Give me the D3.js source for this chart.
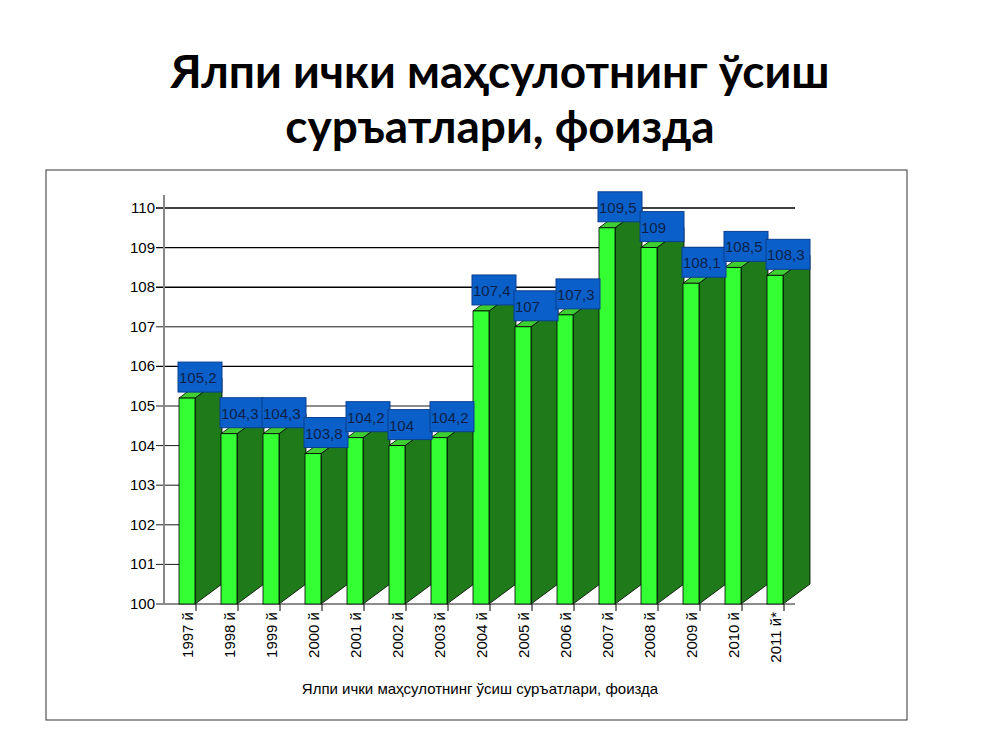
<!DOCTYPE html><html><head><meta charset="utf-8">
<script src="https://cdn.jsdelivr.net/npm/d3@7"></script>
<style>body{margin:0;background:#fff}</style></head><body>
<svg id="c" width="1000" height="750"></svg>
<script>
const categories=["1997 й","1998 й","1999 й","2000 й","2001 й","2002 й","2003 й","2004 й","2005 й","2006 й","2007 й","2008 й","2009 й","2010 й","2011 й*"];
const values=[105.2,104.3,104.3,103.8,104.2,104,104.2,107.4,107,107.3,109.5,109,108.1,108.5,108.3];
const labels=["105,2","104,3","104,3","103,8","104,2","104","104,2","107,4","107","107,3","109,5","109","108,1","108,5","108,3"];
const yTicks=[100,101,102,103,104,105,106,107,108,109,110];
const svg=d3.select("#c");
svg.append("text").attr("x",500).attr("y",88).attr("text-anchor","middle").attr("font-family","Lato, 'Open Sans', sans-serif").attr("font-weight","bold").attr("font-size",46).text("Ялпи ички маҳсулотнинг ўсиш");
svg.append("text").attr("x",500).attr("y",143).attr("text-anchor","middle").attr("font-family","Lato, 'Open Sans', sans-serif").attr("font-weight","bold").attr("font-size",46).text("суръатлари, фоизда");
svg.append("rect").attr("x",46).attr("y",170).attr("width",861).attr("height",550).attr("fill","none").attr("stroke","#333").attr("stroke-width",1);
const x=d3.scaleBand().domain(categories).range([164,794]);
const y=d3.scaleLinear().domain([100,110]).range([604,208]);
const F="'Liberation Sans', Arial, sans-serif";
const g=svg.append("g");
yTicks.forEach(t=>{g.append("line").attr("x1",156).attr("x2",795).attr("y1",y(t)).attr("y2",y(t)).attr("stroke","#000").attr("stroke-width",t>=108||t==106?1.4:0.9);
g.append("text").attr("x",155).attr("y",y(t)+5).attr("text-anchor","end").attr("font-family",F).attr("font-size",15).text(t);});
g.append("line").attr("x1",164).attr("x2",164).attr("y1",195).attr("y2",604).attr("stroke","#888").attr("stroke-width",2);
const dx=27,dy=-20,w=16;
categories.forEach((c,i)=>{
 const x0=x(c)+15,yt=y(values[i]),yb=y(100);
 g.append("path").attr("d",`M${x0+w},${yb}L${x0+w+dx},${yb+dy}L${x0+w+dx},${yt+dy}L${x0+w},${yt}Z`).attr("fill","#1f7a1a").attr("stroke","#000").attr("stroke-width",0.8);
 g.append("path").attr("d",`M${x0},${yt}L${x0+dx},${yt+dy}L${x0+w+dx},${yt+dy}L${x0+w},${yt}Z`).attr("fill","#3fcf30").attr("stroke","#000").attr("stroke-width",0.8);
 g.append("rect").attr("x",x0).attr("y",yt).attr("width",w).attr("height",yb-yt).attr("fill","#33ff33").attr("stroke","#000").attr("stroke-width",0.8);
 g.append("line").attr("x1",x(c)+32).attr("x2",x(c)+32).attr("y1",604).attr("y2",611).attr("stroke","#000");
 g.append("text").attr("transform",`translate(${x0+14},612) rotate(-90)`).attr("text-anchor","end").attr("font-family",F).attr("font-size",15).text(c);
});
categories.forEach((c,i)=>{
 const x0=x(c)+15,yt=y(values[i]);
 g.append("rect").attr("x",x0-1).attr("y",yt-36).attr("width",44).attr("height",30).attr("fill","#0a5fc8").attr("stroke","#0a3f90");
 g.append("text").attr("x",x0).attr("y",yt-15).attr("font-family",F).attr("font-size",15).attr("fill","#0b1f4a").text(labels[i]);
});
svg.append("text").attr("x",480).attr("y",694).attr("text-anchor","middle").attr("font-family",F).attr("font-size",15).text("Ялпи ички маҳсулотнинг ўсиш суръатлари, фоизда");
</script></body></html>
